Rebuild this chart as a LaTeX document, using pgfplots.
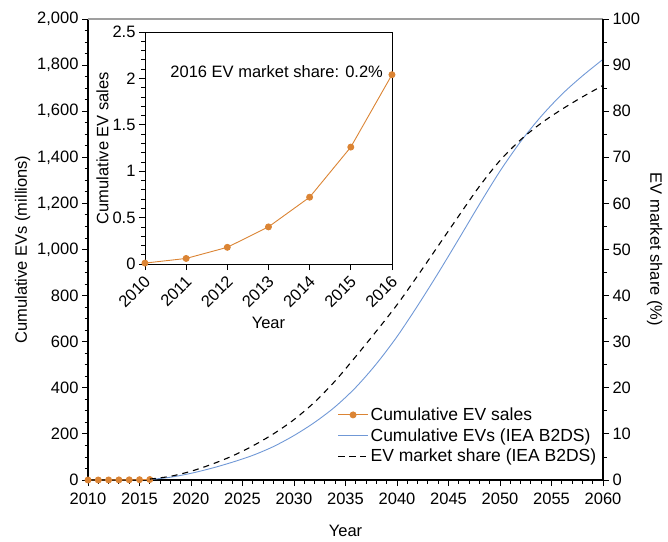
\documentclass[border=0pt]{standalone}
\usepackage{fontspec}
\setmainfont{Liberation Sans}
\usepackage{pgfplots}
\pgfplotsset{compat=1.18}
\definecolor{evorange}{RGB}{219,132,52}
\definecolor{evblue}{RGB}{112,152,214}
\begin{document}
\begin{tikzpicture}
\pgfplotsset{
  every axis/.append style={font=\fontsize{16.5}{19}\selectfont,
    /pgf/number format/assume math mode=true},
  legend image code/.code={\draw[mark repeat=2,mark phase=2,#1] plot coordinates {(0pt,0pt)(15pt,0pt)(30pt,0pt)};},
}
\begin{axis}[name=main, scale only axis, width=515pt, height=461pt,
  xmin=2010, xmax=2060, ymin=0, ymax=2000,
  axis x line*=bottom, axis y line*=left,
  axis line style={-, black, line width=1.1pt},
  xtick={2010,2015,...,2060}, minor x tick num=4,
  ytick={0,200,...,2000}, minor y tick num=3,
  tick align=outside, major tick length=6pt, minor tick length=3.5pt,
  tick style={black, line width=0.9pt},
  xticklabel style={/pgf/number format/1000 sep=, yshift=-3pt},
  yticklabel style={/pgf/number format/1000 sep={,}},
  scaled y ticks=false,
  xlabel={Year}, ylabel={Cumulative EVs (millions)},
  xlabel style={yshift=-14pt},
  clip=false]
\addplot[evblue, line width=0.9pt, smooth] coordinates {
(2016,2) (2018,12) (2020,29) (2022,51) (2024,77) (2026,107) (2028,145) (2030,193)
(2032,250) (2034,318) (2036,402) (2038,504) (2040,622) (2042,756) (2044,898)
(2046,1046) (2048,1196) (2050,1340) (2052,1468) (2054,1578) (2056,1673)
(2058,1753) (2060,1825)};
\addplot[evorange, line width=0.9pt, mark=*, mark size=3pt,
  mark options={fill=evorange, draw=evorange}] coordinates {
(2010,0.01) (2011,0.06) (2012,0.18) (2013,0.40) (2014,0.72) (2015,1.26) (2016,2.04)};
\draw[gray!75, line width=1.8pt] (rel axis cs:0,1) -- (rel axis cs:1,1);
\coordinate (insetSW) at (axis cs:2015.53,937);
\end{axis}
\begin{axis}[scale only axis, width=515pt, height=461pt,
  xmin=2010, xmax=2060, ymin=0, ymax=100,
  axis y line*=right, axis x line=none,
  axis line style={-, black, line width=1.1pt},
  ytick={0,10,...,100}, minor y tick num=1,
  tick align=outside, major tick length=6pt, minor tick length=3.5pt,
  tick style={black, line width=0.9pt},
  ylabel={EV market share (\%)}, ylabel style={rotate=180},
  legend style={at={(0.997,0.027)}, anchor=south east, draw=none, fill=none,
    font=\fontsize{17.5}{20}\selectfont, row sep=2.5pt},
  legend cell align=left]
\addlegendimage{evorange, line width=0.9pt, mark=*, mark size=3pt, mark options={fill=evorange, draw=evorange}}
\addlegendentry{Cumulative EV sales}
\addlegendimage{evblue, line width=0.9pt}
\addlegendentry{Cumulative EVs (IEA B2DS)}
\addplot[black, line width=1.1pt, dash pattern=on 6pt off 5pt, smooth] coordinates {
(2016,0.2) (2018,0.8) (2020,1.9) (2022,3.4) (2024,5.2) (2026,7.4) (2028,10.0)
(2030,13.1) (2032,16.9) (2034,21.5) (2036,26.8) (2038,32.3) (2040,38.0)
(2042,44.3) (2044,50.8) (2046,57.3) (2048,63.7) (2050,69.3) (2052,73.8)
(2054,77.4) (2056,80.4) (2058,83.1) (2060,85.6)};
\addlegendentry{EV market share (IEA B2DS)}
\end{axis}
\begin{axis}[at={(insetSW)}, anchor=south west, scale only axis,
  width=247pt, height=232pt,
  xmin=2010, xmax=2016, ymin=0, ymax=2.5,
  axis line style={black, line width=0.8pt},
  xtick={2010,...,2016}, ytick={0,0.5,1,1.5,2,2.5}, minor y tick num=4,
  xtick pos=left, ytick pos=left,
  tick align=outside, major tick length=6pt, minor tick length=3.5pt,
  tick style={black, line width=0.8pt},
  xticklabel style={rotate=45, anchor=east, yshift=-8pt, xshift=-1pt, /pgf/number format/1000 sep=},
  xlabel={Year}, ylabel={Cumulative EV sales},
  xlabel style={yshift=0pt},
  ylabel style={yshift=-3pt},
  clip=false]
\addplot[evorange, line width=0.9pt, mark=*, mark size=3pt,
  mark options={fill=evorange, draw=evorange}] coordinates {
(2010,0.01) (2011,0.06) (2012,0.18) (2013,0.40) (2014,0.72) (2015,1.26) (2016,2.04)};
\node at (axis cs:2013.2,2.07) {2016 EV market share: 0.2\%};
\end{axis}
\pgfresetboundingbox
\path (main.south west) ++(-88pt,-61pt) rectangle ++(668pt,541pt);
\end{tikzpicture}
\end{document}
